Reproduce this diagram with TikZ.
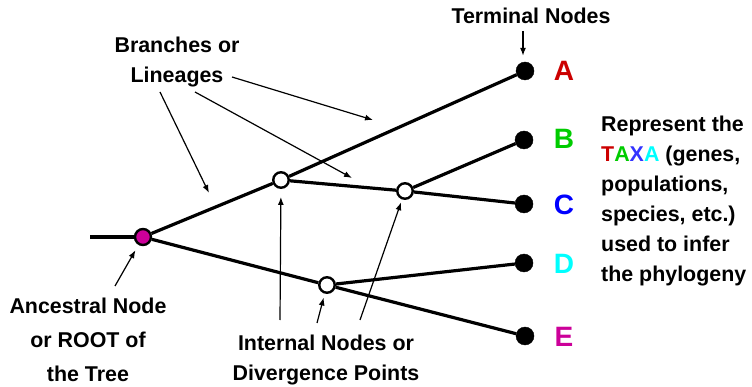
\documentclass[tikz,border=0pt]{standalone}
\usepackage{fontspec}
\setmainfont{Liberation Sans}
\usetikzlibrary{arrows.meta}
\definecolor{rootmag}{HTML}{CC0099}
\definecolor{taxA}{HTML}{CC0000}
\definecolor{taxB}{HTML}{00CC00}
\definecolor{taxC}{HTML}{0000FF}
\definecolor{taxD}{HTML}{00FFFF}
\definecolor{taxE}{HTML}{CC0099}
\definecolor{taxX}{HTML}{3333FF}
\begin{document}
\begin{tikzpicture}[x=1pt,y=-1pt,
  branch/.style={line width=3.2pt},
  pointer/.style={line width=1.2pt,-{Latex[length=8pt,width=6pt]}},
  label/.style={font=\bfseries\fontsize{21.4}{30}\selectfont, align=center, inner sep=0pt},
  leaf/.style={circle, fill=black, draw=black, minimum size=18pt, inner sep=0pt},
  innernode/.style={circle, fill=white, draw=black, line width=2.4pt, minimum size=15.5pt, inner sep=0pt},
  taxon/.style={font=\bfseries\fontsize{28}{30}\selectfont, inner sep=0pt}]
\useasboundingbox[fill=white] (0,0) rectangle (752,387);

% tree nodes
\coordinate (stub) at (90,237);
\node[innernode, fill=rootmag, minimum size=16pt] (root) at (143,237) {};
\node[innernode] (n1) at (281,180) {};
\node[innernode] (n2) at (405,191) {};
\node[innernode] (n3) at (327,285) {};
\node[leaf] (tA) at (525,71) {};
\node[leaf] (tB) at (524,140) {};
\node[leaf] (tC) at (524,204) {};
\node[leaf] (tD) at (524,263) {};
\node[leaf] (tE) at (525,336) {};

% branches
\draw[branch] (stub) -- (root);
\draw[branch] (root) -- (n1);
\draw[branch] (n1) -- (tA);
\draw[branch] (n1) -- (n2);
\draw[branch] (n2) -- (tB);
\draw[branch] (n2) -- (tC);
\draw[branch] (root) -- (n3);
\draw[branch] (n3) -- (tD);
\draw[branch] (n3) -- (tE);

% taxon letters
\node[taxon, text=taxA] (lA) at (564,71) {A};
\node[taxon, text=taxB] (lB) at (564,139) {B};
\node[taxon, text=taxC] (lC) at (564,205) {C};
\node[taxon, text=taxD] (lD) at (564,264) {D};
\node[taxon, text=taxE] (lE) at (564,337) {E};

% terminal nodes label
\node[label] (term) at (531,16) {Terminal Nodes};
\coordinate (termtail) at (523,31);
\draw[pointer, shorten >=6pt] (termtail) -- (termtail |- tA.north);

% branches label
\node[label] (branches) at (177,62) {Branches or\\Lineages};
\coordinate (bt1) at (160,92);
\coordinate (bh1) at (209,193);
\coordinate (bt2) at (195,92);
\coordinate (bh2) at (352,178);
\coordinate (bt3) at (232,77);
\coordinate (bh3) at (373,120);
\draw[pointer] (bt1) -- (bh1);
\draw[pointer] (bt2) -- (bh2);
\draw[pointer] (bt3) -- (bh3);

% root label
\node[label, font=\bfseries\fontsize{21.4}{34}\selectfont] (anc) at (88,340) {Ancestral Node\\or ROOT of\\the Tree};
\coordinate (anctail) at (115,286);
\draw[pointer, shorten >=6pt] (anctail) -- (root);

% internal nodes label
\node[label] (int) at (326,360) {Internal Nodes or\\Divergence Points};
\coordinate (it1) at (280,320);
\coordinate (it2) at (317,323);
\coordinate (it3) at (360,320);
\draw[pointer, shorten >=8pt] (it1) -- (n1);
\draw[pointer, shorten >=4pt] (it2) -- (n3);
\draw[pointer, shorten >=3pt] (it3) -- (n2);

% taxa description
\node[label, align=left, anchor=west] (taxa) at (601,201)
  {Represent the\\{\color{taxA}T}{\color{taxB}A}{\color{taxX}X}{\color{taxD}A} (genes,\\populations,\\species, etc.)\\used to infer\\the phylogeny};
\end{tikzpicture}
\end{document}
